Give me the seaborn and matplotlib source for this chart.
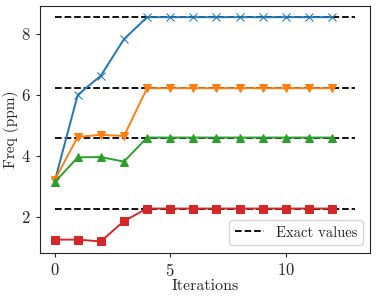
import matplotlib
matplotlib.use("Agg")
import matplotlib.pyplot as plt
import seaborn as sns
import numpy as np
import pandas as pd

iterations = list(range(13))
freq_blue = [3.15, 6.0, 6.63, 7.83] + [8.55] * 9
freq_orange = [3.2, 4.62, 4.69, 4.65] + [6.22] * 9
freq_green = [3.13, 3.95, 3.96, 3.81] + [4.60] * 9
freq_red = [1.25, 1.25, 1.19, 1.86] + [2.27] * 9
exact_values = [8.55, 6.22, 4.60, 2.27]
exact_x = [0, 13]

series = [
    (freq_blue, "#1f77b4", "x"),
    (freq_orange, "#ff7f0e", "v"),
    (freq_green, "#2ca02c", "^"),
    (freq_red, "#d62728", "s"),
]

sns.set_style("ticks")
plt.rcParams["font.family"] = ["cmr10", "DejaVu Serif"]
plt.rcParams["mathtext.fontset"] = "cm"
plt.rcParams["axes.formatter.use_mathtext"] = True
plt.rcParams["axes.unicode_minus"] = False

fig, ax = plt.subplots(figsize=(3.77, 2.99), dpi=100)

for i, val in enumerate(exact_values):
    ax.plot(exact_x, [val, val], color="black", linestyle="--", linewidth=1.3,
            label="Exact values" if i == 0 else None, zorder=1)

for vals, color, marker in series:
    sns.lineplot(x=iterations, y=vals, color=color, marker=marker, markersize=5.5,
                 markeredgecolor=color, linewidth=1.4, ax=ax, zorder=2)

ax.set_xlabel("Iterations", fontsize=11.5, labelpad=0.5)
ax.set_ylabel("Freq (ppm)", fontsize=11, labelpad=1)
ax.tick_params(labelsize=12, length=3)
ax.set_xticks([0, 5, 10])
ax.set_yticks([2, 4, 6, 8])
ax.legend(loc="lower right", fontsize=10.5)

fig.subplots_adjust(left=0.105, right=0.982, top=0.98, bottom=0.155)
fig.savefig("out.png", dpi=100)
